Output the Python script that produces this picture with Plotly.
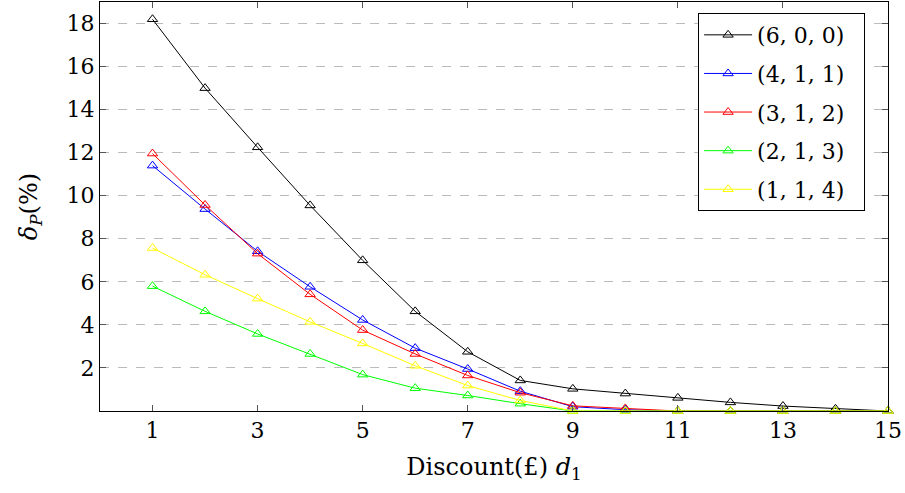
import plotly.graph_objects as go

x_vals = list(range(1, 16))
s600 = [18.2, 15.0, 12.25, 9.55, 7.0, 4.63, 2.75, 1.42, 1.03, 0.81, 0.61, 0.4, 0.23, 0.1, 0.0]
s411 = [11.4, 9.38, 7.42, 5.77, 4.23, 2.92, 1.95, 0.92, 0.2, 0.06, 0.0, 0.0, 0.0, 0.0, 0.0]
s312 = [11.96, 9.57, 7.31, 5.42, 3.76, 2.65, 1.65, 0.85, 0.24, 0.12, 0.0, 0.0, 0.0, 0.0, 0.0]
s213 = [5.8, 4.63, 3.58, 2.65, 1.69, 1.06, 0.72, 0.34, 0.0, 0.0, 0.0, 0.0, 0.0, 0.0, 0.0]
s114 = [7.57, 6.33, 5.22, 4.14, 3.14, 2.1, 1.18, 0.49, 0.0, 0.0, 0.0, 0.0, 0.0, 0.0, 0.0]

series = [
    ("(6, 0, 0)", s600, "black"),
    ("(4, 1, 1)", s411, "blue"),
    ("(3, 1, 2)", s312, "red"),
    ("(2, 1, 3)", s213, "#00ff00"),
    ("(1, 1, 4)", s114, "#ffff00"),
]
x_ticks = [1, 3, 5, 7, 9, 11, 13, 15]
y_ticks = [2, 4, 6, 8, 10, 12, 14, 16, 18]

FONT = "DejaVu Serif"

fig = go.Figure()
for i, (name, ys, col) in enumerate(series):
    fig.add_trace(go.Scatter(
        x=x_vals, y=ys, name=name + "\u00a0\u00a0", mode="lines+markers",
        line=dict(color=col, width=1),
        marker=dict(symbol="triangle-up-open", size=9, color=col, line=dict(width=1, color=col)),
        cliponaxis=False, legendgroup=f"g{i}",
    ))

fig.update_layout(
    width=905, height=493,
    margin=dict(l=100, r=17, t=2, b=82),
    paper_bgcolor="white", plot_bgcolor="white",
    font=dict(family=FONT, size=22, color="black"),
    showlegend=True,
    legend=dict(
        x=0.759, y=0.973, xanchor="left", yanchor="top",
        bordercolor="black", borderwidth=1, bgcolor="white",
        font=dict(family=FONT, size=22), tracegroupgap=7,
        traceorder="grouped", itemwidth=48,
    ),
    xaxis=dict(
        range=[0, 15], tickvals=x_ticks, ticks="inside", ticklen=6, tickcolor="#555",
        showgrid=False, showline=True, linecolor="black", linewidth=1, mirror="ticks",
        zeroline=False,
        title=dict(text="Discount(£) <i>d</i><sub>1</sub>", font=dict(family=FONT, size=24), standoff=15),
    ),
    yaxis=dict(
        range=[0, 19], tickvals=y_ticks, ticks="inside", ticklen=6, tickcolor="#555",
        showgrid=True, gridcolor="#bbbbbb", griddash="dash", gridwidth=1,
        showline=True, linecolor="black", linewidth=1, mirror="ticks",
        zeroline=False,
        title=dict(text="<i>δ</i><sub><i>P</i></sub>(%)", font=dict(family=FONT, size=24), standoff=22),
    ),
)

fig.write_html("out.html", config={"displayModeBar": False},
               post_script="document.body.style.margin='0px';")
